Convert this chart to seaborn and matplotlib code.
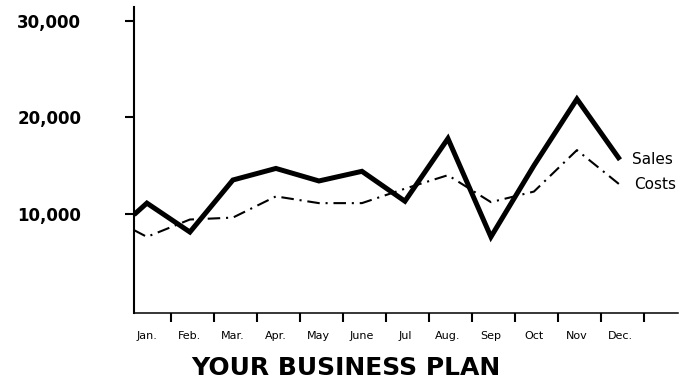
import numpy as np
import pandas as pd
import matplotlib
matplotlib.use("Agg")
import matplotlib.pyplot as plt
import seaborn as sns

# ---- data ----
months = ["Jan.", "Feb.", "Mar.", "Apr.", "May", "June", "Jul",
          "Aug.", "Sep", "Oct", "Nov", "Dec."]
sales = [11100, 8100, 13500, 14700, 13400, 14400, 11300,
         17800, 7600, 15000, 21900, 15600]
costs = [7600, 9400, 9600, 11800, 11100, 11100, 12600,
         14000, 11200, 12300, 16600, 13000]
opening_sales = 9900   # value where each line meets the y axis
opening_costs = 8300
y_ticks = [10000, 20000, 30000]
y_tick_labels = ["10,000", "20,000", "30,000"]
series_names = ["Sales", "Costs"]
title = "YOUR BUSINESS PLAN"

# ---- style ----
sns.set_theme(style="white")
plt.rcParams["font.family"] = ["DejaVu Sans"]
plt.rcParams["text.color"] = "black"

W, H = 680, 382
fig = plt.figure(figsize=(W / 100, H / 100), dpi=100)
ax = fig.add_axes([134 / W, 69 / H, 544 / W, 306 / H])

X_LEFT, X_RIGHT = -0.3, 12.35
month_pos = list(range(len(months)))
x_full = [X_LEFT] + month_pos

df = pd.DataFrame({
    "x": x_full * 2,
    "value": [opening_sales] + sales + [opening_costs] + costs,
    "series": [series_names[0]] * len(x_full) + [series_names[1]] * len(x_full),
})

sns.lineplot(data=df[df.series == series_names[0]], x="x", y="value",
             color="black", lw=3.6, ax=ax, solid_joinstyle="miter",
             solid_capstyle="butt", legend=False)
sns.lineplot(data=df[df.series == series_names[1]], x="x", y="value",
             color="black", lw=1.5, ax=ax, linestyle=(0, (6, 2.8, 1, 2.8)),
             legend=False)

ax.set_xlim(X_LEFT, X_RIGHT)
ax.set_ylim(-300, 31450)

# spines
for s in ["top", "right"]:
    ax.spines[s].set_visible(False)
ax.spines["left"].set_linewidth(1.5)
ax.spines["left"].set_color("black")
ax.spines["bottom"].set_linewidth(1.1)
ax.spines["bottom"].set_color("black")

# y axis
ax.set_yticks(y_ticks, y_tick_labels)
ax.tick_params(axis="y", left=True, direction="out", length=6.5, width=1.5,
               color="black", pad=77.5, labelsize=12, labelcolor="black")
for lab in ax.get_yticklabels():
    lab.set_ha("left")
    lab.set_fontweight("bold")

# x axis: labels at months, tick marks between them
ax.set_xticks(month_pos, months)
ax.set_xticks(np.arange(len(months)) + 0.55, minor=True)
ax.tick_params(axis="x", which="major", bottom=True, length=0, pad=13.2,
               labelsize=8, labelcolor="black")
ax.tick_params(axis="x", which="minor", bottom=True, direction="out",
               length=6.5, width=1.5, color="black")

ax.set_ylabel("")

# line-end labels
ax.annotate(series_names[0], xy=(month_pos[-1], sales[-1]), xytext=(9, 0),
            textcoords="offset points", va="center", ha="left", fontsize=11,
            annotation_clip=False)
ax.annotate(series_names[1], xy=(month_pos[-1], costs[-1]), xytext=(10, 0),
            textcoords="offset points", va="center", ha="left", fontsize=11,
            annotation_clip=False)

# caption under the chart
ax.set_xlabel(title, fontsize=18, fontweight="bold", color="black")
ax.xaxis.set_label_coords((346 - 134) / 544, (313 - 356) / 306)

fig.savefig("out.png", dpi=100)
